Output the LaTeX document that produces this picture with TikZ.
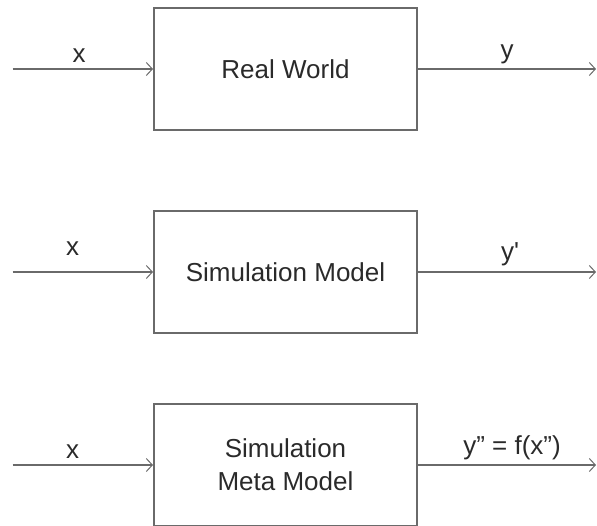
\documentclass[tikz,border=0pt]{standalone}
\usepackage{fontspec}
\setmainfont{Liberation Sans}
\usetikzlibrary{arrows.meta}
\definecolor{linegray}{HTML}{6A6A6A}
\definecolor{textgray}{HTML}{2A2A2A}
\tikzset{
  blockbox/.style={draw=linegray, line width=2pt, minimum width=263pt, minimum height=122pt,
    inner sep=0pt, text=textgray, align=center, font=\fontsize{26}{33}\selectfont},
  flow/.style={draw=linegray, line width=2pt, -{Straight Barb[length=6pt,width=13pt,line width=1pt]}},
  lbl/.style={anchor=base, inner sep=0pt, text=textgray, font=\fontsize{26}{33}\selectfont}
}
\begin{document}
\begin{tikzpicture}[x=1pt,y=-1pt]
\useasboundingbox (0,0) rectangle (597,525);
% boxes
\node[blockbox] (b1) at (285.5,69) {Real World};
\node[blockbox] (b2) at (285.5,272) {Simulation Model};
\node[blockbox] (b3) at (285.5,465) {Simulation\\Meta Model};
% free ends
\coordinate (i1) at (12.5,69);
\coordinate (o1) at (596,69);
\coordinate (i2) at (12.5,272);
\coordinate (o2) at (596,272);
\coordinate (i3) at (12.5,465);
\coordinate (o3) at (596,465);
% connectors
\draw[flow] (i1) -- (b1.west);
\draw[flow] (b1.east) -- (o1);
\draw[flow] (i2) -- (b2.west);
\draw[flow] (b2.east) -- (o2);
\draw[flow] (i3) -- (b3.west);
\draw[flow] (b3.east) -- (o3);
% labels
\node[lbl] (x1) at (79,62) {x};
\node[lbl] (y1) at (507,58) {y};
\node[lbl] (x2) at (72.5,255) {x};
\node[lbl] (y2) at (510,260) {y\textquotesingle};
\node[lbl] (x3) at (72.5,458) {x};
\node[lbl] (y3) at (512,454) {y” = f(x”)};
\end{tikzpicture}
\end{document}
